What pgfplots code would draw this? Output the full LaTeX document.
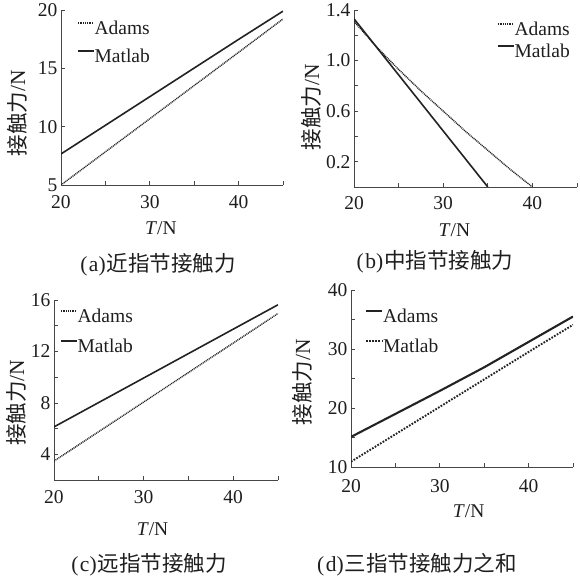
\documentclass[border=0pt]{standalone}
\usepackage{fontspec}
\setmainfont{Liberation Serif}
\newfontfamily\cjk{Noto Sans CJK SC}
\usepackage{pgfplots}
\pgfplotsset{compat=1.18}
\definecolor{ln}{RGB}{35,35,35}
\definecolor{ax}{RGB}{70,70,70}
\definecolor{tx}{RGB}{30,30,30}
\newcommand{\fs}{\fontsize{19.5}{19.5}\selectfont}
\newcommand{\fy}{\fontsize{21.5}{21.5}\selectfont}
\newcommand{\fc}{\fontsize{21.5}{21.5}\selectfont}
\pgfplotsset{
  myax/.style={
    scale only axis, axis lines=left,
    axis line style={-, draw=ax, line width=0.8pt},
    tick style={draw=ax, line width=0.7pt}, tick align=inside,
    major tick length=4pt, minor tick length=4pt,
    xmin=20, xmax=45, xtick={20,30,40}, minor xtick={25,35,45},
    tick label style={font=\fs, text=tx},
    /pgf/number format/assume math mode=true,
    xticklabel style={anchor=center, yshift=-17pt},
    xlabel style={font=\fs, text=tx},
    ylabel style={font=\fy, text=tx},
    xlabel={\textit{T}/N},
    ylabel={{\cjk 接触力}/N},
    legend style={draw=none, fill=none, inner sep=0pt, outer sep=0pt,
      font=\fs, text=tx, nodes={inner sep=0pt}},
    legend cell align=left,
    legend image code/.code={\draw[##1] (0pt,5.5pt) -- (16pt,5.5pt);},
    legend style={/tikz/every even column/.append style={column sep=2pt}},
  },
  adams/.style={ln, line width=1.4pt, dash pattern=on 1pt off 0.8pt},
  matlab/.style={ln, line width=1.6pt},
  adamsd/.style={ln, line width=2.1pt},
  matlabd/.style={ln, line width=1.9pt, dash pattern=on 1.7pt off 1.4pt},
}
\begin{document}
\begin{tikzpicture}
\useasboundingbox (0,0) rectangle (579pt,580pt);
% (a)
\begin{axis}[myax, at={(61pt,395pt)}, anchor=south west, width=222pt, height=175pt,
  ymin=5, ymax=20, ytick={5,10,15,20},
  xlabel style={at={([yshift=-43pt]axis description cs:0.45,0)}, anchor=center},
  ylabel style={at={([xshift=-44pt]axis description cs:0,0.41)}, anchor=center},
  legend style={at={([yshift=-11pt]axis description cs:0.072,1)}, anchor=north west, row sep=13pt}]
\addplot[adams] coordinates {(20,5.0) (30,10.68) (40,16.37) (45,19.23)};
\addplot[matlab] coordinates {(20,7.66) (30,12.57) (40,17.48) (45,19.9)};
\legend{Adams,Matlab}
\end{axis}
% (b)
\begin{axis}[myax, at={(354pt,393pt)}, anchor=south west, width=223pt, height=177pt,
  ymin=0, ymax=1.4, ytick={0.2,0.6,1.0,1.4}, minor ytick={0.4,0.8,1.2},
  yticklabel style={/pgf/number format/.cd, fixed, fixed zerofill, precision=1},
  xticklabel style={yshift=1pt},
  xlabel style={at={([yshift=-43pt]axis description cs:0.45,0)}, anchor=center},
  ylabel style={at={([xshift=-43pt]axis description cs:0,0.45)}, anchor=center},
  legend style={at={([yshift=-12pt]axis description cs:0.641,1)}, anchor=north west, row sep=7pt}]
\addplot[adams] coordinates {(20,1.31) (22.5,1.11) (25,0.93) (27.5,0.76) (30,0.60) (32.5,0.44) (35,0.29) (37.5,0.14) (40,0)};
\addplot[matlab] coordinates {(20,1.33) (35,0)};
\legend{Adams,Matlab}
\end{axis}
% (c)
\begin{axis}[myax, at={(54pt,100pt)}, anchor=south west, width=224pt, height=180pt,
  ymin=2, ymax=16, ytick={4,8,12,16}, minor ytick={6,10,14},
  xlabel style={at={([yshift=-49pt]axis description cs:0.44,0)}, anchor=center},
  ylabel style={at={([xshift=-38pt]axis description cs:0,0.43)}, anchor=center},
  legend style={at={([yshift=-9pt]axis description cs:0.027,1)}, anchor=north west, row sep=15pt}]
\addplot[adams] coordinates {(20,3.47) (30,8.06) (40,12.65) (45,14.95)};
\addplot[matlab] coordinates {(20,6.13) (30,9.93) (40,13.73) (45,15.63)};
\legend{Adams,Matlab}
\end{axis}
% (d)
\begin{axis}[myax, at={(351pt,113pt)}, anchor=south west, width=222pt, height=177pt,
  ymin=10, ymax=40, ytick={10,20,30,40}, minor ytick={15,25,35},
  xticklabel style={yshift=-2pt},
  xlabel style={at={([yshift=-44pt]axis description cs:0.53,0)}, anchor=center},
  ylabel style={at={([xshift=-49pt]axis description cs:0,0.48)}, anchor=center},
  legend style={at={([yshift=-19pt]axis description cs:0.063,1)}, anchor=north west, row sep=15pt}]
\addplot[adamsd] coordinates {(20,15.1) (25,19.0) (30,22.9) (35,26.9) (40,31.2) (45,35.5)};
\addplot[matlabd] coordinates {(20,10.9) (30,20.2) (40,29.5) (45,34.1)};
\legend{Adams,Matlab}
\end{axis}
% captions
\node[font=\fc, text=tx] at (158pt,315pt) {(\hspace{1.5pt}a)\hspace{1pt}{\cjk 近指节接触力}};
\node[font=\fc, text=tx] at (435pt,318pt) {(\hspace{1.5pt}b)\hspace{1pt}{\cjk 中指节接触力}};
\node[font=\fc, text=tx] at (149pt,15pt) {(\hspace{1.5pt}c)\hspace{1pt}{\cjk 远指节接触力}};
\node[font=\fc, text=tx] at (417pt,15pt) {(\hspace{1.5pt}d)\hspace{1pt}{\cjk 三指节接触力之和}};
\end{tikzpicture}
\end{document}
